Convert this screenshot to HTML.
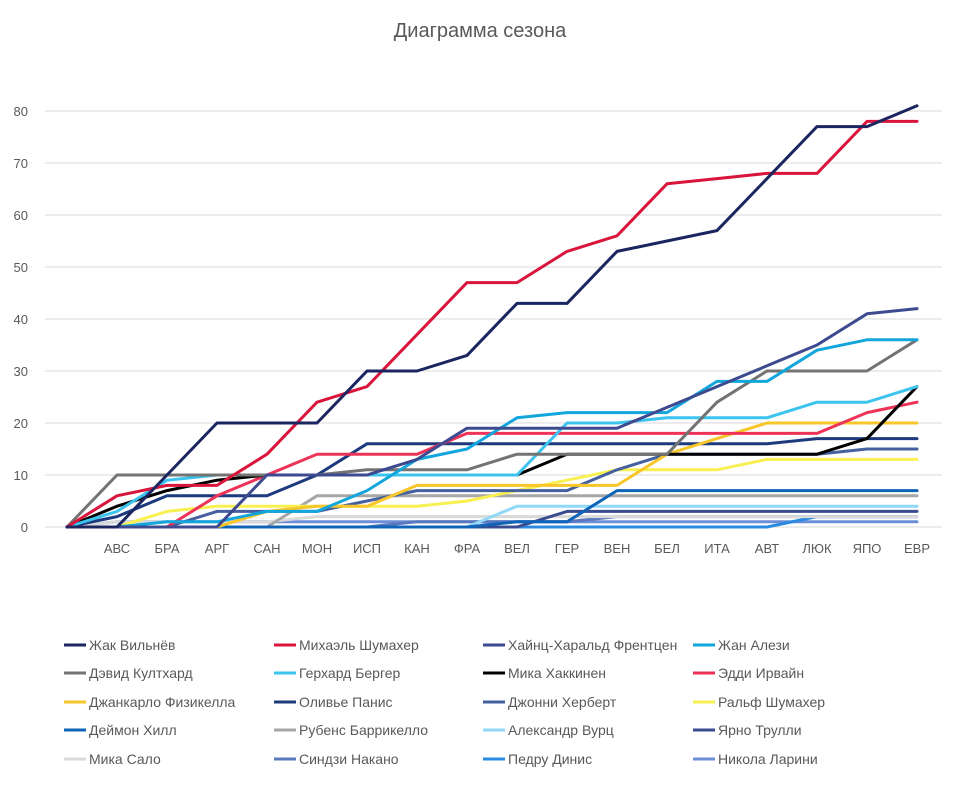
<!DOCTYPE html>
<html><head><meta charset="utf-8">
<style>
body{margin:0;background:#fff;width:960px;height:783px;overflow:hidden;font-family:"Liberation Sans","DejaVu Sans",sans-serif;}
svg text{font-family:"Liberation Sans","DejaVu Sans",sans-serif;}
svg text.lg{font-family:"Liberation Sans Narrow","Liberation Sans",sans-serif;}
</style></head><body>
<svg id="c" width="960" height="783" xmlns="http://www.w3.org/2000/svg">
<rect width="960" height="783" fill="#fff"/>
<text x="480" y="37" text-anchor="middle" font-size="20" fill="#595959">Диаграмма сезона</text>
<g id="grid"></g><g id="series"></g><g id="legend"></g>
</svg>
<script>
var ns="http://www.w3.org/2000/svg";
function el(t,a,txt){var e=document.createElementNS(ns,t);for(var k in a)e.setAttribute(k,a[k]);if(txt)e.textContent=txt;return e;}
var g=document.getElementById('grid');
for(var v=0;v<=80;v+=10){var y=527-5.2*v;
g.appendChild(el('line',{x1:45,x2:942,y1:y,y2:y,stroke:'#d9d9d9','stroke-width':1}));
g.appendChild(el('text',{x:28,y:y+5,'text-anchor':'end','font-size':13,fill:'#595959'},String(v)));}
var cats=['АВС','БРА','АРГ','САН','МОН','ИСП','КАН','ФРА','ВЕЛ','ГЕР','ВЕН','БЕЛ','ИТА','АВТ','ЛЮК','ЯПО','ЕВР'];
cats.forEach(function(c,i){g.appendChild(el('text',{x:117+50*i,y:553,'text-anchor':'middle','font-size':13,fill:'#595959'},c));});
var S=[
['Жак Вильнёв','#1b2560',[0,0,10,20,20,20,30,30,33,43,43,53,55,57,67,77,77,81]],
['Михаэль Шумахер','#d9153c',[0,6,8,8,14,24,27,37,47,47,53,56,66,67,68,68,78,78]],
['Хайнц-Харальд Френтцен','#3d4a8f',[0,0,0,0,10,10,10,13,19,19,19,19,23,27,31,35,41,42]],
['Жан Алези','#12a6dc',[0,0,1,1,3,3,7,13,15,21,22,22,22,28,28,34,36,36]],
['Дэвид Култхард','#737373',[0,10,10,10,10,10,11,11,11,14,14,14,14,24,30,30,30,36]],
['Герхард Бергер','#3cc4ef',[0,3,9,10,10,10,10,10,10,10,20,20,21,21,21,24,24,27]],
['Мика Хаккинен','#000000',[0,4,7,9,10,10,10,10,10,10,14,14,14,14,14,14,17,27]],
['Эдди Ирвайн','#ee3358',[0,0,0,6,10,14,14,14,18,18,18,18,18,18,18,18,22,24]],
['Джанкарло Физикелла','#f8c62a',[0,0,0,0,3,4,4,8,8,8,8,8,14,17,20,20,20,20]],
['Оливье Панис','#1d3a7e',[0,2,6,6,6,10,16,16,16,16,16,16,16,16,16,17,17,17]],
['Джонни Херберт','#44609f',[0,0,0,3,3,3,5,7,7,7,7,11,14,14,14,14,15,15]],
['Ральф Шумахер','#f8f050',[0,0,3,4,4,4,4,4,5,7,9,11,11,11,13,13,13,13]],
['Деймон Хилл','#0f64b8',[0,0,0,0,0,0,0,0,0,1,1,7,7,7,7,7,7,7]],
['Рубенс Баррикелло','#a6a6a6',[0,0,0,0,0,6,6,6,6,6,6,6,6,6,6,6,6,6]],
['Александр Вурц','#8fd8f7',[0,0,0,0,0,0,0,0,0,4,4,4,4,4,4,4,4,4]],
['Ярно Трулли','#3a4c90',[0,0,0,0,0,0,0,0,0,0,3,3,3,3,3,3,3,3]],
['Мика Сало','#d9d9d9',[0,1,1,1,1,2,2,2,2,2,2,2,2,2,2,2,2,2]],
['Синдзи Накано','#5a78bd',[0,0,0,0,0,0,0,1,1,1,1,2,2,2,2,2,2,2]],
['Педру Динис','#2b8be0',[0,0,0,0,0,0,0,0,0,0,0,0,0,0,0,2,2,2]],
['Никола Ларини','#6d8ed6',[0,1,1,1,1,1,1,1,1,1,1,1,1,1,1,1,1,1]]
];
var sg=document.getElementById('series');
for(var k=S.length-1;k>=0;k--){var d=S[k][2],p=[];for(var i=0;i<d.length;i++)p.push((67+50*i)+','+(527-5.2*d[i]).toFixed(1));
sg.appendChild(el('polyline',{points:p.join(' '),fill:'none',stroke:S[k][1],'stroke-width':3,'stroke-linejoin':'round','stroke-linecap':'round'}));}
var lg=document.getElementById('legend');var lx=[64,274,483,693],ly=[645,673,702,730,759];
S.forEach(function(s,i){var x=lx[i%4],y=ly[Math.floor(i/4)];
lg.appendChild(el('line',{x1:x,x2:x+22,y1:y,y2:y,stroke:s[1],'stroke-width':3}));
lg.appendChild(el('text',{'class':'lg',x:x+25,y:y+5,'font-size':14,fill:'#595959'},s[0]));});
</script>
</body></html>
